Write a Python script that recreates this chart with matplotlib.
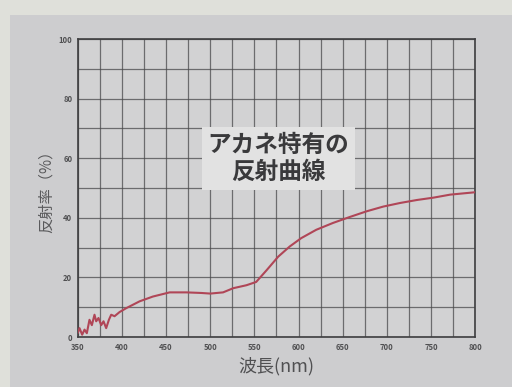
import numpy as np
import matplotlib.pyplot as plt
from matplotlib.patches import Rectangle

plt.rcParams['font.family'] = ['Noto Sans CJK JP', 'DejaVu Sans']

# wavelength (nm) and reflectance (%)
wavelength = [350, 351.9, 354.9, 357.6, 360.2, 363.2, 365.9, 368.9, 370.8, 373.4,
              376.5, 379.1, 382.1, 385.2, 387.8, 391.6, 397.3, 404.8, 420, 435,
              454, 473, 490, 500, 514.5, 526, 541, 552, 563.7, 577, 590, 603,
              620, 639, 658, 677, 696, 715, 734, 753, 771.7, 800]
reflectance = [1.5, 3.0, 0.8, 2.5, 1.3, 5.8, 4.0, 7.5, 5.3, 6.4,
               4.0, 5.3, 3.0, 5.8, 7.5, 7.0, 8.4, 9.7, 12.0, 13.6,
               15.0, 15.0, 14.8, 14.6, 15.0, 16.4, 17.4, 18.5, 22.4, 27.0, 30.4, 33.2,
               36.0, 38.3, 40.3, 42.2, 43.8, 45.0, 46.0, 46.8, 47.8, 48.6]

xticks = [350, 400, 450, 500, 550, 600, 650, 700, 750, 800]
yticks = [0, 20, 40, 60, 80, 100]

fig = plt.figure(figsize=(5.12, 3.87), dpi=100, facecolor='#dfe0da')
panel = Rectangle((10 / 512, 0), 1, 1 - 15 / 387, transform=fig.transFigure,
                  facecolor='#cdcdcf', edgecolor='none', zorder=-10)
fig.add_artist(panel)

ax = fig.add_axes([0.152, 0.129, 0.776, 0.770])
ax.set_facecolor('#d2d2d3')
ax.plot(wavelength, reflectance, color='#b04657', lw=1.5, zorder=3)

ax.set_xlim(350, 800)
ax.set_ylim(0, 100)
ax.set_xticks(xticks)
ax.set_yticks(yticks)
ax.set_xticks(np.arange(350, 801, 25), minor=True)
ax.set_yticks(np.arange(0, 101, 10), minor=True)
ax.grid(True, which='both', color='#4a4a4c', lw=0.9, alpha=0.75)
ax.tick_params(which='both', length=0, labelsize=5.5, labelcolor='#505052', pad=4)
for lab in ax.get_xticklabels() + ax.get_yticklabels():
    lab.set_fontweight('bold')
for s in ax.spines.values():
    s.set_color('#3e3e40')
    s.set_linewidth(1.2)

ax.set_xlabel('波長(nm)', fontsize=13, color='#505052', labelpad=4)
ax.set_ylabel('反射率（%）', fontsize=11, color='#5a5a5c', labelpad=3)

ax.text(0.505, 0.60, 'アカネ特有の\n反射曲線', transform=ax.transAxes,
        ha='center', va='center', fontsize=17, fontweight='bold', color='#3a3a3c',
        linespacing=1.15,
        bbox=dict(boxstyle='square,pad=0.25', facecolor='#e2e2e2', edgecolor='none'),
        zorder=4)

fig.savefig('out.png', dpi=100, facecolor=fig.get_facecolor())
